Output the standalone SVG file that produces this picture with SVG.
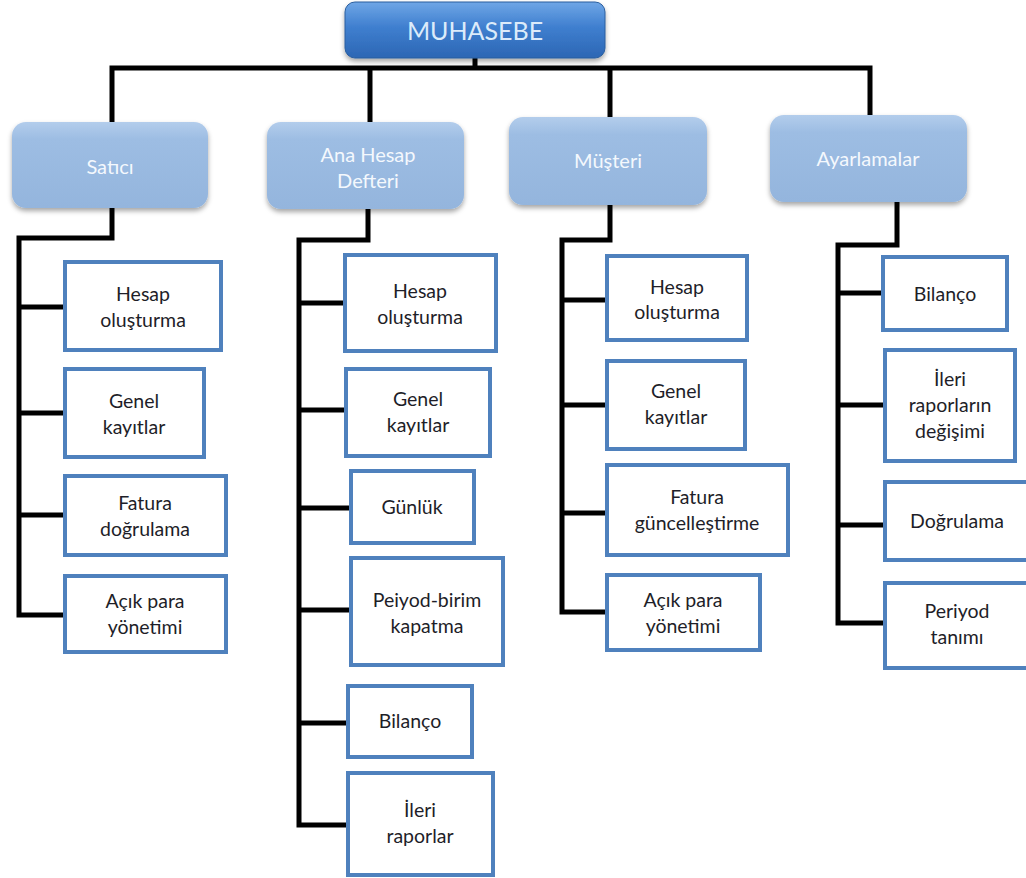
<svg xmlns="http://www.w3.org/2000/svg" width="1026" height="878" viewBox="0 0 1026 878">
  <defs>
    <linearGradient id="gTop" x1="0" y1="0" x2="0" y2="1">
      <stop offset="0" stop-color="#6FA6E6"/>
      <stop offset="0.45" stop-color="#3F7FCF"/>
      <stop offset="1" stop-color="#2C66B4"/>
    </linearGradient>
    <linearGradient id="gHead" x1="0" y1="0" x2="0" y2="1">
      <stop offset="0" stop-color="#B3CDEC"/>
      <stop offset="0.2" stop-color="#9DBDE3"/>
      <stop offset="1" stop-color="#94B5DD"/>
    </linearGradient>
    <filter id="shadow" x="-10%" y="-10%" width="120%" height="130%">
      <feDropShadow dx="0" dy="3" stdDeviation="2.5" flood-color="#000" flood-opacity="0.35"/>
    </filter>
  </defs>
  <style>
    .top { fill: url(#gTop); stroke: #2A5E9E; stroke-width: 1; filter: url(#shadow); }
    .head { fill: url(#gHead); filter: url(#shadow); }
    .leaf { fill: #FFFFFF; stroke: #4F81BD; stroke-width: 4; }
    .wire { fill: none; stroke: #000; stroke-width: 5; stroke-linejoin: miter; }
    text { font-family: Lato, "Open Sans", "Liberation Sans", sans-serif; text-anchor: middle; }
    .tt { font-size: 25px; fill: #DCEBFA; }
    .ht { font-size: 20px; fill: #F4F8FD; }
    .lt { font-size: 19.5px; fill: #1E1E28; }
  </style>

  <!-- connectors -->
  <g id="connectors" class="wire">
    <path d="M475 58 V68"/>
    <path d="M112 122 V68 H870 V115"/>
    <path d="M370 68 V122"/>
    <path d="M610 68 V117"/>
    <!-- Satıcı -->
    <path d="M112 208 V238 H19 V615 H65"/>
    <path d="M19 307 H65"/>
    <path d="M19 413 H65"/>
    <path d="M19 515 H65"/>
    <!-- Ana Hesap Defteri -->
    <path d="M368 209 V240 H299 V825 H348"/>
    <path d="M299 303 H345"/>
    <path d="M299 410 H346"/>
    <path d="M299 508 H351"/>
    <path d="M299 610 H351"/>
    <path d="M299 723 H348"/>
    <!-- Müşteri -->
    <path d="M610 205 V240 H562 V612 H607"/>
    <path d="M562 300 H607"/>
    <path d="M562 405 H607"/>
    <path d="M562 513 H607"/>
    <!-- Ayarlamalar -->
    <path d="M897 202 V245 H838 V623 H885"/>
    <path d="M838 293 H883"/>
    <path d="M838 405 H885"/>
    <path d="M838 525 H885"/>
  </g>

  <!-- root -->
  <g id="muhasebe">
    <rect class="top" x="345" y="2" width="260" height="56" rx="10"/>
    <text class="tt" x="475" y="40">MUHASEBE</text>
  </g>

  <!-- main branches -->
  <g id="satici">
    <rect class="head" x="12" y="122" width="196" height="86" rx="14"/>
    <text class="ht" x="110" y="174">Satıcı</text>
  </g>
  <g id="ana-hesap">
    <rect class="head" x="267" y="122" width="197" height="87" rx="14"/>
    <text class="ht" x="368" y="162">Ana Hesap</text>
    <text class="ht" x="368" y="188">Defteri</text>
  </g>
  <g id="musteri">
    <rect class="head" x="509" y="117" width="198" height="88" rx="14"/>
    <text class="ht" x="608" y="168">Müşteri</text>
  </g>
  <g id="ayarlamalar">
    <rect class="head" x="770" y="115" width="197" height="87" rx="14"/>
    <text class="ht" x="868" y="166">Ayarlamalar</text>
  </g>

  <!-- Satıcı items -->
  <g id="s-hesap">
    <rect class="leaf" x="65" y="262" width="156" height="88"/>
    <text class="lt" x="143" y="301">Hesap</text>
    <text class="lt" x="143" y="327">oluşturma</text>
  </g>
  <g id="s-genel">
    <rect class="leaf" x="65" y="369" width="139" height="88"/>
    <text class="lt" x="134" y="408">Genel</text>
    <text class="lt" x="134" y="434">kayıtlar</text>
  </g>
  <g id="s-fatura">
    <rect class="leaf" x="65" y="476" width="161" height="79"/>
    <text class="lt" x="145" y="510">Fatura</text>
    <text class="lt" x="145" y="536">doğrulama</text>
  </g>
  <g id="s-acik">
    <rect class="leaf" x="65" y="576" width="161" height="76"/>
    <text class="lt" x="145" y="608">Açık para</text>
    <text class="lt" x="145" y="634">yönetimi</text>
  </g>

  <!-- Ana Hesap Defteri items -->
  <g id="a-hesap">
    <rect class="leaf" x="345" y="255" width="151" height="96"/>
    <text class="lt" x="420" y="298">Hesap</text>
    <text class="lt" x="420" y="324">oluşturma</text>
  </g>
  <g id="a-genel">
    <rect class="leaf" x="346" y="369" width="144" height="87"/>
    <text class="lt" x="418" y="406">Genel</text>
    <text class="lt" x="418" y="432">kayıtlar</text>
  </g>
  <g id="a-gunluk">
    <rect class="leaf" x="351" y="471" width="123" height="72"/>
    <text class="lt" x="412" y="514">Günlük</text>
  </g>
  <g id="a-peiyod">
    <rect class="leaf" x="351" y="558" width="152" height="107"/>
    <text class="lt" x="427" y="607">Peiyod-birim</text>
    <text class="lt" x="427" y="633">kapatma</text>
  </g>
  <g id="a-bilanco">
    <rect class="leaf" x="348" y="686" width="124" height="71"/>
    <text class="lt" x="410" y="728">Bilanço</text>
  </g>
  <g id="a-ileri">
    <rect class="leaf" x="348" y="773" width="145" height="102"/>
    <text class="lt" x="420" y="817">İleri</text>
    <text class="lt" x="420" y="843">raporlar</text>
  </g>

  <!-- Müşteri items -->
  <g id="m-hesap">
    <rect class="leaf" x="607" y="256" width="140" height="84"/>
    <text class="lt" x="677" y="294">Hesap</text>
    <text class="lt" x="677" y="319">oluşturma</text>
  </g>
  <g id="m-genel">
    <rect class="leaf" x="607" y="361" width="138" height="88"/>
    <text class="lt" x="676" y="398">Genel</text>
    <text class="lt" x="676" y="424">kayıtlar</text>
  </g>
  <g id="m-fatura">
    <rect class="leaf" x="607" y="465" width="181" height="90"/>
    <text class="lt" x="697" y="504">Fatura</text>
    <text class="lt" x="697" y="530">güncelleştirme</text>
  </g>
  <g id="m-acik">
    <rect class="leaf" x="607" y="575" width="153" height="75"/>
    <text class="lt" x="683" y="607">Açık para</text>
    <text class="lt" x="683" y="633">yönetimi</text>
  </g>

  <!-- Ayarlamalar items -->
  <g id="y-bilanco">
    <rect class="leaf" x="883" y="257" width="124" height="73"/>
    <text class="lt" x="945" y="301">Bilanço</text>
  </g>
  <g id="y-ileri">
    <rect class="leaf" x="885" y="350" width="130" height="111"/>
    <text class="lt" x="950" y="386">İleri</text>
    <text class="lt" x="950" y="412">raporların</text>
    <text class="lt" x="950" y="438">değişimi</text>
  </g>
  <g id="y-dogrulama">
    <rect class="leaf" x="885" y="482" width="143" height="78"/>
    <text class="lt" x="957" y="528">Doğrulama</text>
  </g>
  <g id="y-periyod">
    <rect class="leaf" x="885" y="583" width="143" height="85"/>
    <text class="lt" x="957" y="618">Periyod</text>
    <text class="lt" x="957" y="644">tanımı</text>
  </g>
</svg>
